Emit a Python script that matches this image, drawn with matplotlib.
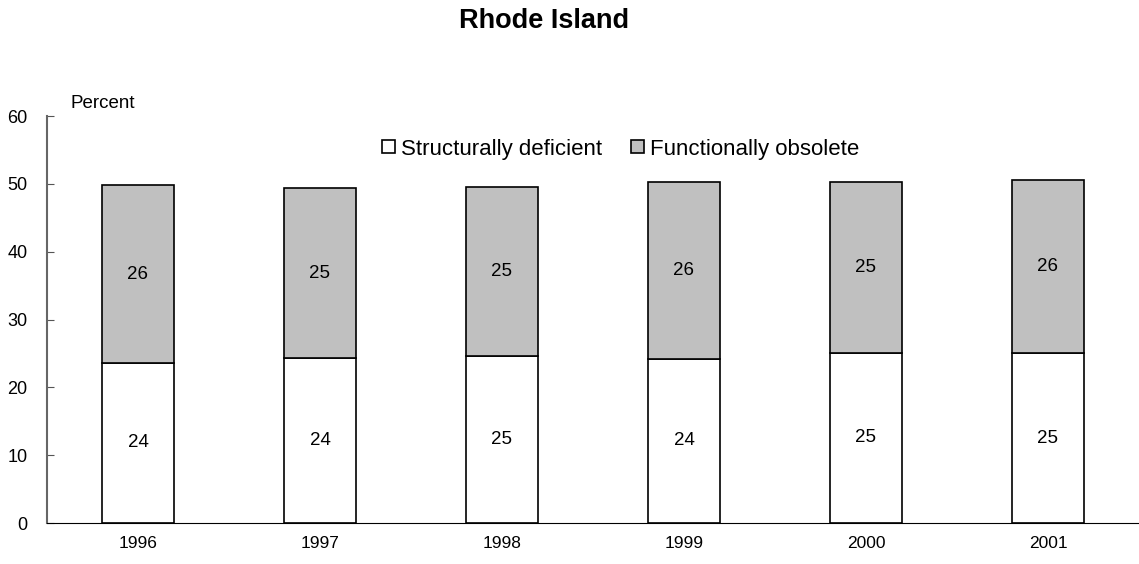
import numpy as np
import matplotlib
matplotlib.use('Agg')
import matplotlib.pyplot as plt

plt.rcParams['font.family'] = ['Liberation Sans', 'DejaVu Sans']

years = ['1996', '1997', '1998', '1999', '2000', '2001']
structurally = [23.6, 24.3, 24.6, 24.2, 25.1, 25.0]
functionally = [26.2, 25.1, 25.0, 26.1, 25.1, 25.6]

fig = plt.figure(figsize=(11.39, 5.64), dpi=100)
ax = fig.add_axes([47 / 1139, 1 - 523 / 564, 1 - 47 / 1139, (523 - 116) / 564])

x = np.arange(len(years))
w = 0.4
b1 = ax.bar(x, structurally, w, color='white', edgecolor='black', linewidth=1.2,
            label='Structurally deficient')
b2 = ax.bar(x, functionally, w, bottom=structurally, color='#c0c0c0', edgecolor='black',
            linewidth=1.2, label='Functionally obsolete')

for i in range(len(years)):
    ax.text(x[i], structurally[i] / 2, f'{round(structurally[i])}', ha='center', va='center', fontsize=13.5)
    ax.text(x[i], structurally[i] + functionally[i] / 2, f'{round(functionally[i])}',
            ha='center', va='center', fontsize=13.5)

ax.set_xlim(-0.5, 5.5)
ax.set_ylim(0, 60)
ax.set_yticks(range(0, 61, 10))
ax.set_xticks(x)
ax.set_xticklabels(years)
ax.tick_params(axis='x', length=0, pad=9, labelsize=12.5)
ax.tick_params(axis='y', length=5, direction='in', color='#555555', labelsize=13, pad=14)
for s in ['top', 'right']:
    ax.spines[s].set_visible(False)
ax.spines['left'].set_color('#666666')
ax.spines['left'].set_linewidth(1.5)
ax.spines['bottom'].set_color('black')

fig.text(70 / 1139, 1 - 103 / 564, 'Percent', fontsize=13.5, va='center', ha='left')
fig.text(544 / 1139, 1 - 21 / 564, 'Rhode Island', fontsize=19.5, fontweight='bold',
         ha='center', va='center')

fig.legend(handles=[b1, b2], loc='center', bbox_to_anchor=(621 / 1139, 1 - 149 / 564),
           ncol=2, frameon=False, fontsize=16, handlelength=0.55, handleheight=0.55,
           handletextpad=0.3, columnspacing=1.3, borderpad=0, borderaxespad=0)

fig.savefig('out.png', dpi=100)
